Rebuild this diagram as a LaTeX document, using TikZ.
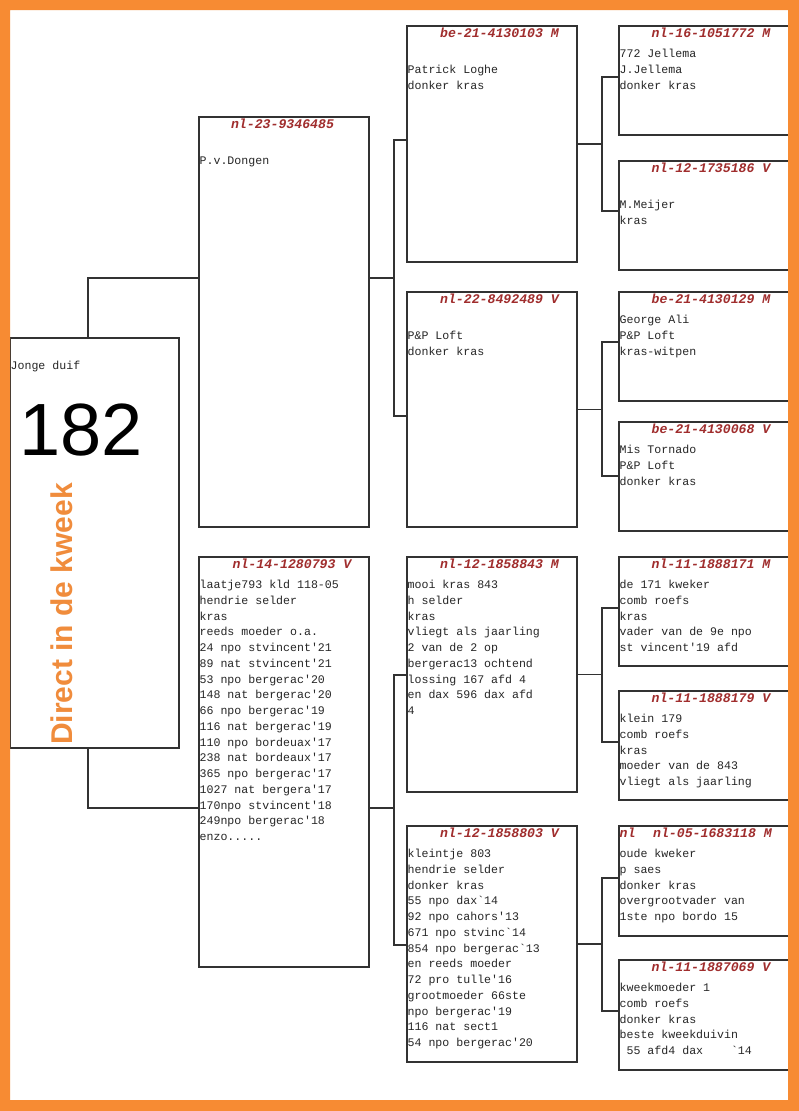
\documentclass[tikz,border=0pt]{standalone}
\usepackage{fontspec}
\setmonofont{Liberation Mono}
\newfontfamily\sansf{Liberation Sans}
\usetikzlibrary{fit}
\definecolor{frameor}{RGB}{247,139,51}
\definecolor{titleor}{RGB}{240,140,60}
\definecolor{hdrred}{RGB}{160,45,45}
\definecolor{linec}{RGB}{50,50,50}
\begin{document}
\begin{tikzpicture}[x=1pt,y=-1pt,
  box/.style={draw=linec, line width=1.1pt, inner sep=0pt, fill=white},
  conn/.style={draw=linec, line width=1.1pt},
  body/.style={font=\ttfamily\fontsize{11.6}{15.75}\selectfont, align=left, inner sep=0pt, anchor=north west, text=black!85},
  hdr/.style={font=\ttfamily\bfseries\itshape\fontsize{13.2}{15}\selectfont, text=hdrred, inner sep=0pt, anchor=base}]
\useasboundingbox (0,0) rectangle (799,1111);
\fill[white] (0,0) rectangle (799,1111);

% boxes
\node[box, fit={(10,338) (179,748)}] (r) {};
\node[box, fit={(199,117) (369,527)}] (f) {};
\node[box, fit={(199,557) (369,967)}] (m) {};
\node[box, fit={(407,26) (577,262)}] (ff) {};
\node[box, fit={(407,292) (577,527)}] (fm) {};
\node[box, fit={(407,557) (577,792)}] (mf) {};
\node[box, fit={(407,826) (577,1062)}] (mm) {};
\node[box, fit={(619,26) (803,135)}] (fff) {};
\node[box, fit={(619,161) (803,270)}] (ffm) {};
\node[box, fit={(619,292) (803,401)}] (fmf) {};
\node[box, fit={(619,422) (803,531)}] (fmm) {};
\node[box, fit={(619,557) (803,666)}] (mff) {};
\node[box, fit={(619,691) (803,800)}] (mfm) {};
\node[box, fit={(619,826) (803,936)}] (mmf) {};
\node[box, fit={(619,960) (803,1070)}] (mmm) {};

% connectors
\coordinate (j1) at (88,278);
\coordinate (j2) at (88,808);
\draw[conn] (r.north -| j1) -- (j1) -- (j1 -| f.west);
\draw[conn] (r.south -| j2) -- (j2) -- (j2 -| m.west);

\coordinate (jf) at (394,278);
\coordinate (jfa) at (394,140);
\coordinate (jfb) at (394,416);
\draw[conn] (jf -| f.east) -- (jf);
\draw[conn] (jfa -| ff.west) -- (jfa) -- (jfb) -- (jfb -| fm.west);

\coordinate (jm) at (394,808);
\coordinate (jma) at (394,675);
\coordinate (jmb) at (394,945);
\draw[conn] (jm -| m.east) -- (jm);
\draw[conn] (jma -| mf.west) -- (jma) -- (jmb) -- (jmb -| mm.west);

\coordinate (kffa) at (602,77);
\coordinate (kffb) at (602,211);
\draw[conn] (ff.east) -- (ff.east -| kffa);
\draw[conn] (kffa -| fff.west) -- (kffa) -- (kffb) -- (kffb -| ffm.west);

\coordinate (kfma) at (602,342);
\coordinate (kfmb) at (602,476);
\draw[conn] (fm.east) -- (fm.east -| kfma);
\draw[conn] (kfma -| fmf.west) -- (kfma) -- (kfmb) -- (kfmb -| fmm.west);

\coordinate (kmfa) at (602,608);
\coordinate (kmfb) at (602,742);
\draw[conn] (mf.east) -- (mf.east -| kmfa);
\draw[conn] (kmfa -| mff.west) -- (kmfa) -- (kmfb) -- (kmfb -| mfm.west);

\coordinate (kmma) at (602,878);
\coordinate (kmmb) at (602,1011);
\draw[conn] (mm.east) -- (mm.east -| kmma);
\draw[conn] (kmma -| mmf.west) -- (kmma) -- (kmmb) -- (kmmb -| mmm.west);

% headers
\node[hdr] (hf) at ([shift={(-1.5,12)}]f.north) {nl-23-9346485};
\node[hdr] (hm) at ([shift={(8,12)}]m.north) {nl-14-1280793 V};
\node[hdr] (hff) at ([shift={(7.5,12)}]ff.north) {be-21-4130103 M};
\node[hdr] (hfm) at ([shift={(7.5,12)}]fm.north) {nl-22-8492489 V};
\node[hdr] (hmf) at ([shift={(7.5,12)}]mf.north) {nl-12-1858843 M};
\node[hdr] (hmm) at ([shift={(7.5,12)}]mm.north) {nl-12-1858803 V};
\node[hdr] (hfff) at ([shift={(0,12)}]fff.north) {nl-16-1051772 M};
\node[hdr] (hffm) at ([shift={(0,12)}]ffm.north) {nl-12-1735186 V};
\node[hdr] (hfmf) at ([shift={(0,12)}]fmf.north) {be-21-4130129 M};
\node[hdr] (hfmm) at ([shift={(0,12)}]fmm.north) {be-21-4130068 V};
\node[hdr] (hmff) at ([shift={(0,12)}]mff.north) {nl-11-1888171 M};
\node[hdr] (hmfm) at ([shift={(0,12)}]mfm.north) {nl-11-1888179 V};
\node[hdr] (hmmf) at ([shift={(1.5,12)}]mmf.north) {nl-05-1683118 M};
\node[hdr, anchor=base west] (hmmf2) at ([shift={(1,12)}]mmf.north west) {nl};
\node[hdr] (hmmm) at ([shift={(0,12)}]mmm.north) {nl-11-1887069 V};

% body texts
\node[body] (tr) at ([shift={(1,21)}]r.north west) {\strut Jonge duif};
\node[body] (tf) at ([shift={(1,21)}]f.north west) {\strut\\P.v.Dongen};
\node[body] (tm) at ([shift={(1,21)}]m.north west) {\strut laatje793 kld 118-05\\hendrie selder\\kras\\reeds moeder o.a.\\24 npo stvincent'21\\89 nat stvincent'21\\53 npo bergerac'20\\148 nat bergerac'20\\66 npo bergerac'19\\116 nat bergerac'19\\110 npo bordeuax'17\\238 nat bordeaux'17\\365 npo bergerac'17\\1027 nat bergera'17\\170npo stvincent'18\\249npo bergerac'18\\enzo.....};
\node[body] (tff) at ([shift={(1,21)}]ff.north west) {\strut\\Patrick Loghe\\donker kras};
\node[body] (tfm) at ([shift={(1,21)}]fm.north west) {\strut\\P\&P Loft\\donker kras};
\node[body] (tmf) at ([shift={(1,21)}]mf.north west) {\strut mooi kras 843\\h selder\\kras\\vliegt als jaarling\\2 van de 2 op\\bergerac13 ochtend\\lossing 167 afd 4\\en dax 596 dax afd\\4};
\node[body] (tmm) at ([shift={(1,21)}]mm.north west) {\strut kleintje 803\\hendrie selder\\donker kras\\55 npo dax`14\\92 npo cahors'13\\671 npo stvinc`14\\854 npo bergerac`13\\en reeds moeder\\72 pro tulle'16\\grootmoeder 66ste\\npo bergerac'19\\116 nat sect1\\54 npo bergerac'20};
\node[body] (tfff) at ([shift={(1,21)}]fff.north west) {\strut 772 Jellema\\J.Jellema\\donker kras};
\node[body] (tffm) at ([shift={(1,21)}]ffm.north west) {\strut\\M.Meijer\\kras};
\node[body] (tfmf) at ([shift={(1,21)}]fmf.north west) {\strut George Ali\\P\&P Loft\\kras-witpen};
\node[body] (tfmm) at ([shift={(1,21)}]fmm.north west) {\strut Mis Tornado\\P\&P Loft\\donker kras};
\node[body] (tmff) at ([shift={(1,21)}]mff.north west) {\strut de 171 kweker\\comb roefs\\kras\\vader van de 9e npo\\st vincent'19 afd};
\node[body] (tmfm) at ([shift={(1,21)}]mfm.north west) {\strut klein 179\\comb roefs\\kras\\moeder van de 843\\vliegt als jaarling};
\node[body] (tmmf) at ([shift={(1,21)}]mmf.north west) {\strut oude kweker\\p saes\\donker kras\\overgrootvader van\\1ste npo bordo 15};
\node[body] (tmmm) at ([shift={(1,21)}]mmm.north west) {\strut kweekmoeder 1\\comb roefs\\donker kras\\beste kweekduivin\\\phantom{0}55 afd4 dax\phantom{0000}`14};

% big number and vertical title
\node[font=\sansf\fontsize{74}{80}\selectfont, anchor=base west, inner sep=0pt] (num) at (19,455) {182};
\node[font=\sansf\bfseries\fontsize{30}{36}\selectfont, text=titleor, rotate=90, anchor=base west, inner sep=0pt] (dik) at (72,745) {Direct in de kweek};

% orange frame
\fill[frameor, even odd rule] (0,0) rectangle (799,1111) (10,10) rectangle (788,1100);
\end{tikzpicture}
\end{document}
